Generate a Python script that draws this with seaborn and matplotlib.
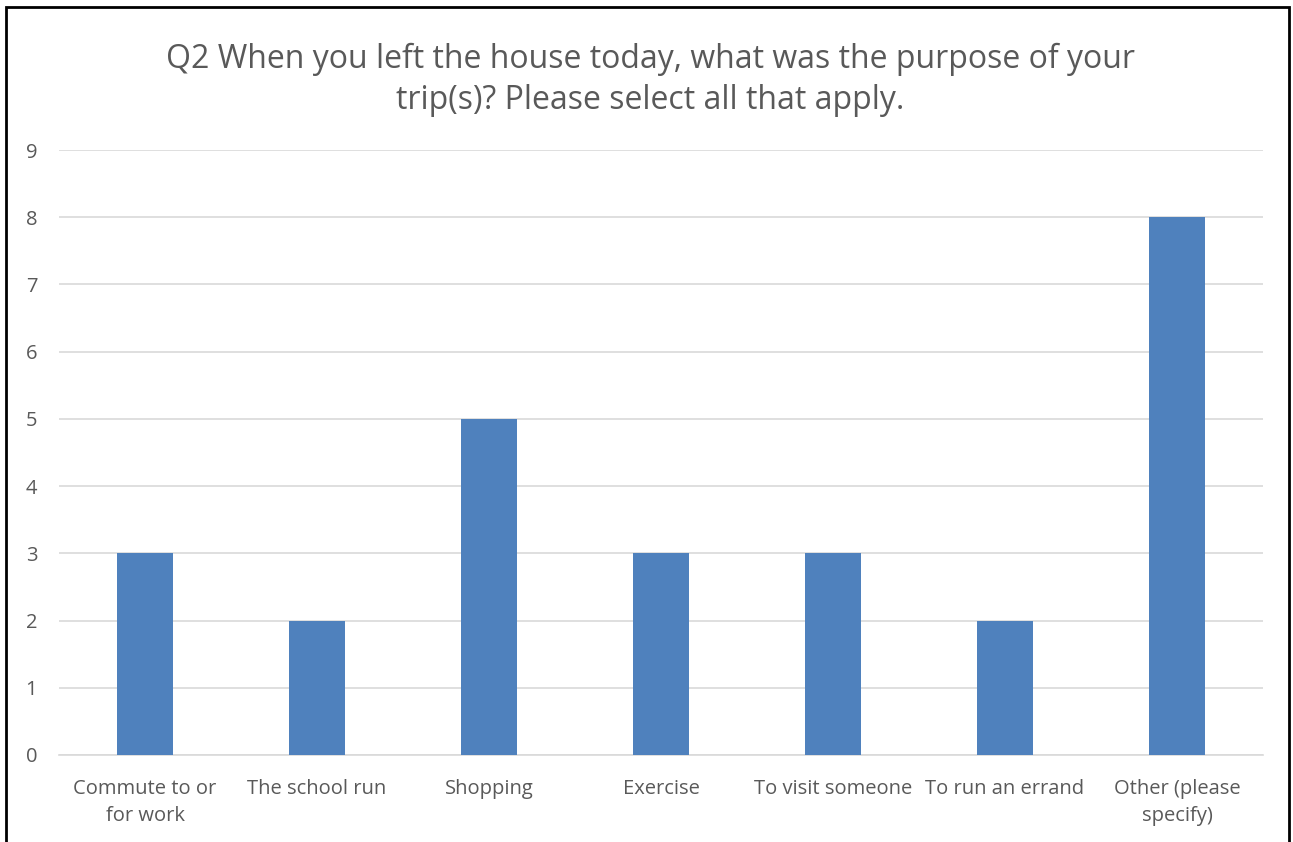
import matplotlib
matplotlib.use("Agg")
import matplotlib.pyplot as plt
import seaborn as sns
import pandas as pd
from matplotlib.patches import Rectangle

categories = ["Commute to or\nfor work", "The school run", "Shopping", "Exercise",
              "To visit someone", "To run an errand", "Other (please\nspecify)"]
counts = [3, 2, 5, 3, 3, 2, 8]
yticks = list(range(0, 10))
title = "Q2 When you left the house today, what was the purpose of your\ntrip(s)? Please select all that apply."

sns.set_theme(style="white")
plt.rcParams['font.family'] = ['Open Sans', 'DejaVu Sans']

df = pd.DataFrame({"cat": categories, "n": counts})

fig = plt.figure(figsize=(12.93, 8.42), dpi=100)
ax = fig.add_axes([59/1293, 1-755/842, (1263-59)/1293, (755-150)/842])

sns.barplot(data=df, x="cat", y="n", ax=ax, color="#4f81bd", saturation=1, width=0.32,
            linewidth=0, zorder=3)

ax.set_ylim(0, 9)
ax.set_yticks(yticks)
ax.set_xlim(-0.5, len(categories)-0.5)
ax.yaxis.grid(True, color="#d9d9d9", linewidth=1.2, zorder=0)
ax.xaxis.grid(False)
for s in ["top", "right", "left"]:
    ax.spines[s].set_visible(False)
ax.spines["bottom"].set_color("#d9d9d9")
ax.spines["bottom"].set_linewidth(1.2)
ax.set_xlabel("")
ax.set_ylabel("")
ax.tick_params(axis="both", length=0, colors="#595959", labelsize=14.5)
ax.tick_params(axis="y", pad=24)
ax.tick_params(axis="x", pad=17)
for lbl in ax.get_yticklabels():
    lbl.set_horizontalalignment("left")
for lbl in ax.get_xticklabels():
    lbl.set_linespacing(1.5)

fig.text(650/1293, 1-80/842, title, ha="center", va="center", fontsize=23,
         color="#595959", linespacing=1.3)

# outer frame
fig.patches.append(Rectangle((6/1293, -0.01), (1289-6)/1293, 1-7/842+0.01,
                             transform=fig.transFigure, fill=False,
                             edgecolor="black", linewidth=2))

fig.savefig("out.png", dpi=100)
